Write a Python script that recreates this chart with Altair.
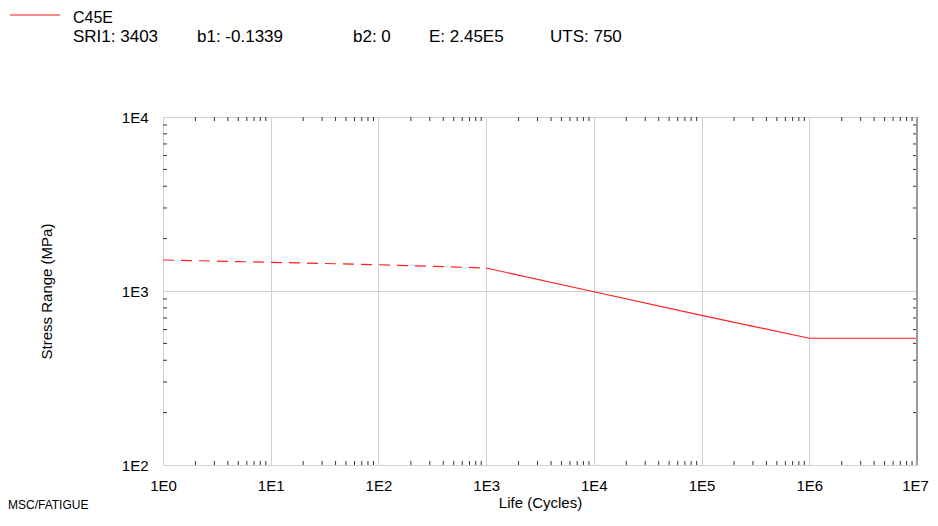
import altair as alt
import pandas as pd

# ---- data ----
dash_life = [1, 10, 100, 1000]
dash_stress = [1507, 1462, 1416, 1356]
solid_life = [1000, 10000, 100000, 1000000, 10000000]
solid_stress = [1356, 990, 725, 535, 535]

decades_x = [1, 10, 100, 1000, 10000, 100000, 1000000, 10000000]
decades_y = [100, 1000, 10000]
minor_x = [m * 10 ** k for k in range(7) for m in range(2, 10)]
minor_y = [m * 10 ** k for k in range(2, 4) for m in range(2, 10)]

legend_name = "C45E"
legend_parts = ["SRI1: 3403", "b1: -0.1339", "b2: 0", "E: 2.45E5", "UTS: 750"]
legend_part_x = [-90, 34, 190, 266, 387]
footer = "MSC/FATIGUE"

W, H = 754, 348
FONT = "Liberation Sans"
RED = "#ff2020"

xscale = alt.Scale(type="log", domain=[1, 1e7], nice=False)
yscale = alt.Scale(type="log", domain=[100, 1e4], nice=False)
label_expr = "'1E' + round(log(datum.value) / LN10)"

xaxis = alt.Axis(values=decades_x, grid=True, gridColor="#d0d0d0", domain=False,
                 ticks=False, tickSize=0, labelExpr=label_expr, labelFont=FONT,
                 labelFontSize=15, labelColor="#000", labelPadding=13,
                 labelFlush=False, labelOverlap=False, labelBound=False,
                 labelOffset={"condition": {"test": "datum.value >= 10000000",
                                            "value": -2}, "value": 0},
                 title="Life (Cycles)", titleFont=FONT, titleFontSize=15,
                 titleFontWeight="normal", titleColor="#000", titleX=W / 2,
                 titleY=37, titleBaseline="middle", titleAlign="center")
yaxis = alt.Axis(values=decades_y, grid=True, gridColor="#d0d0d0", domain=False,
                 ticks=False, tickSize=0, labelExpr=label_expr, labelFont=FONT,
                 labelFontSize=15, labelColor="#000", labelPadding=15,
                 labelFlush=False, labelOverlap=False,
                 title="Stress Range (MPa)", titleFont=FONT, titleFontSize=15,
                 titleFontWeight="normal", titleColor="#000", titleX=-117,
                 titleY=H / 2, titleAngle=270, titleBaseline="middle",
                 titleAlign="center")

dash_df = pd.DataFrame({"life": dash_life, "stress": dash_stress})
solid_df = pd.DataFrame({"life": solid_life, "stress": solid_stress})

dashed = alt.Chart(dash_df).mark_line(color=RED, strokeWidth=1.2,
                                      strokeDash=[11, 7]).encode(
    x=alt.X("life:Q", scale=xscale, axis=xaxis),
    y=alt.Y("stress:Q", scale=yscale, axis=yaxis),
)
solid = alt.Chart(solid_df).mark_line(color=RED, strokeWidth=1.2).encode(
    x=alt.X("life:Q", scale=xscale),
    y=alt.Y("stress:Q", scale=yscale),
)

mx = pd.DataFrame({"v": minor_x})
my = pd.DataFrame({"v": minor_y})
tick_color = "#333333"
bottom_ticks = alt.Chart(mx).mark_tick(orient="vertical", size=4, thickness=1,
                                       color=tick_color, opacity=1).encode(
    x=alt.X("v:Q", scale=xscale), y=alt.value(H - 2))
top_ticks = alt.Chart(mx).mark_tick(orient="vertical", size=4, thickness=1,
                                    color=tick_color, opacity=1).encode(
    x=alt.X("v:Q", scale=xscale), y=alt.value(2))
left_ticks = alt.Chart(my).mark_tick(orient="horizontal", size=4, thickness=1,
                                     color=tick_color, opacity=1).encode(
    y=alt.Y("v:Q", scale=yscale), x=alt.value(2))
right_ticks = alt.Chart(my).mark_tick(orient="horizontal", size=4, thickness=1,
                                      color=tick_color, opacity=1).encode(
    y=alt.Y("v:Q", scale=yscale), x=alt.value(W - 2))

right_border = alt.Chart(pd.DataFrame({"a": [0]})).mark_rule(
    color="#999999", strokeWidth=2).encode(
    x=alt.value(W), y=alt.value(0), y2=alt.value(H))

legend_line = alt.Chart(pd.DataFrame({"a": [0]})).mark_rule(
    color="#ff6060", strokeWidth=1.5).encode(
    x=alt.value(-153), x2=alt.value(-103), y=alt.value(-102))
legend_title = alt.Chart(pd.DataFrame({"t": [legend_name]})).mark_text(
    font=FONT, fontSize=16, align="left", baseline="middle", color="#000").encode(
    text="t:N", x=alt.value(-90), y=alt.value(-99))
legend_layers = [
    alt.Chart(pd.DataFrame({"t": [t]})).mark_text(
        font=FONT, fontSize=17, align="left", baseline="middle", color="#000").encode(
        text="t:N", x=alt.value(px), y=alt.value(-80))
    for t, px in zip(legend_parts, legend_part_x)
]
footer_text = alt.Chart(pd.DataFrame({"t": [footer]})).mark_text(
    font=FONT, fontSize=12, align="left", baseline="bottom", color="#000").encode(
    text="t:N", x=alt.value(-155), y=alt.value(H + 47))

chart = alt.layer(
    bottom_ticks, top_ticks, left_ticks, right_ticks,
    dashed, solid, right_border, legend_line, legend_title, *legend_layers,
    footer_text,
).properties(
    width=W, height=H,
    autosize=alt.AutoSizeParams(type="none"),
    padding={"left": 155, "top": 109, "right": 13, "bottom": 48},
).configure_view(
    stroke="#777777", strokeWidth=1,
).configure(background="white")

chart.save("out.html", embed_options={"renderer": "svg", "actions": False})
